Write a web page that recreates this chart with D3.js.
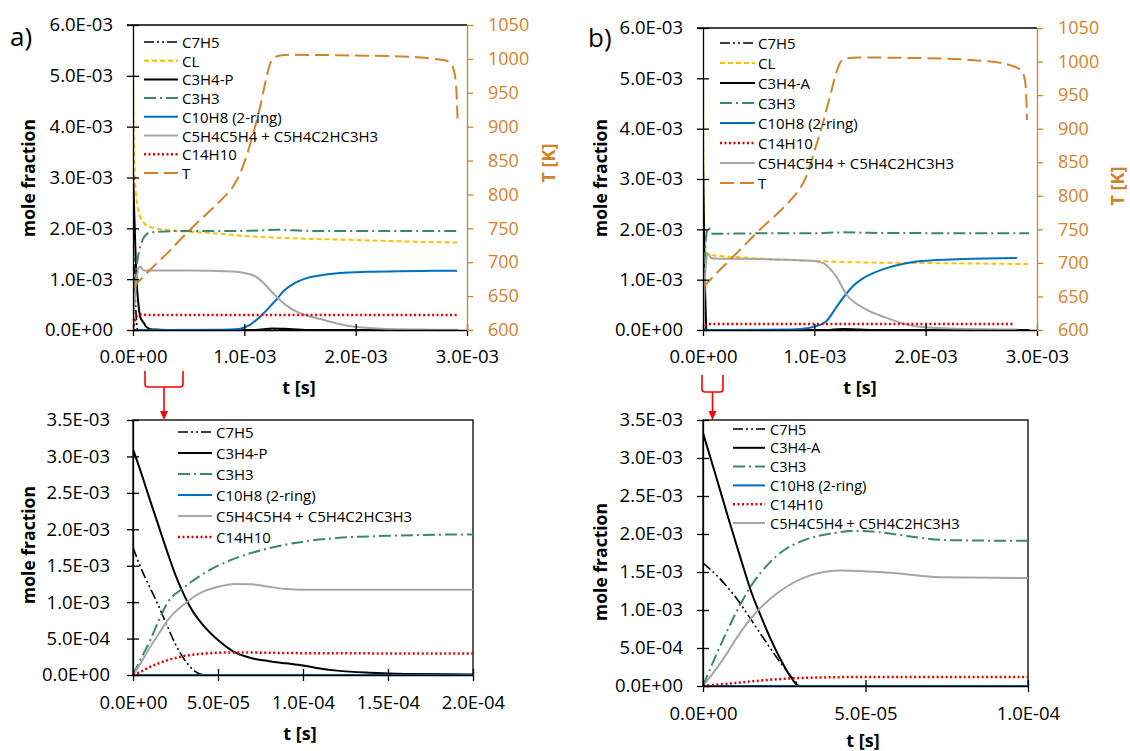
<!DOCTYPE html>
<html lang="en">
<head>
<meta charset="UTF-8" />
<title>mole fraction vs t</title>
<script src="https://cdn.jsdelivr.net/npm/d3@7"></script>
<style>
  body { margin: 0; background: #fff; }
  svg { font-family: "Open Sans", sans-serif; }
</style>
</head>
<body>
<svg width="1130" height="751"></svg>
<script>
// ---- data: [t (s), value] ----
// case a) C3H4-P
const aC7H5 = [[0,1.75e-3],[5e-6,1.45e-3],[1e-5,1.2e-3],[1.5e-5,0.95e-3],[2e-5,0.68e-3],[2.5e-5,0.42e-3],[3e-5,0.22e-3],[3.5e-5,0.08e-3],[4e-5,0.01e-3],[4.5e-5,0],[1e-4,0],[2.92e-3,0]];
const aCL = [[0,5.25e-3],[5e-6,4.2e-3],[1e-5,3.5e-3],[2e-5,2.9e-3],[4e-5,2.45e-3],[6e-5,2.25e-3],[1e-4,2.1e-3],[1.5e-4,2.03e-3],[2e-4,2.0e-3],[3e-4,1.97e-3],[4e-4,1.95e-3],[6e-4,1.92e-3],[8e-4,1.89e-3],[1e-3,1.85e-3],[1.5e-3,1.8e-3],[2e-3,1.77e-3],[2.5e-3,1.74e-3],[2.91e-3,1.72e-3]];
const aC3H4 = [[0,3.1e-3],[5e-6,2.76e-3],[1e-5,2.4e-3],[1.5e-5,2.05e-3],[2e-5,1.7e-3],[2.5e-5,1.37e-3],[3e-5,1.1e-3],[3.5e-5,0.88e-3],[4e-5,0.72e-3],[5e-5,0.48e-3],[6e-5,0.31e-3],[7e-5,0.23e-3],[8e-5,0.19e-3],[9e-5,0.16e-3],[1e-4,0.13e-3],[1.1e-4,0.09e-3],[1.2e-4,0.06e-3],[1.4e-4,0.03e-3],[1.6e-4,0.015e-3],[2e-4,0.008e-3],[3e-4,0.002e-3],[1.1e-3,0],[1.25e-3,0.03e-3],[1.4e-3,0.02e-3],[1.6e-3,0],[2.92e-3,0]];
const aC3H3 = [[0,0],[5e-6,0.24e-3],[1e-5,0.47e-3],[1.5e-5,0.74e-3],[2e-5,0.98e-3],[3e-5,1.2e-3],[4e-5,1.37e-3],[5e-5,1.5e-3],[6e-5,1.6e-3],[8e-5,1.74e-3],[1e-4,1.83e-3],[1.2e-4,1.88e-3],[1.5e-4,1.91e-3],[2e-4,1.93e-3],[5e-4,1.95e-3],[1e-3,1.95e-3],[1.3e-3,1.97e-3],[1.6e-3,1.95e-3],[2.91e-3,1.95e-3]];
const aC10H8 = [[0,0],[2e-4,0],[8e-4,0.005e-3],[9.5e-4,0.02e-3],[1e-3,0.05e-3],[1.05e-3,0.1e-3],[1.11e-3,0.2e-3],[1.17e-3,0.32e-3],[1.23e-3,0.46e-3],[1.3e-3,0.63e-3],[1.35e-3,0.76e-3],[1.45e-3,0.92e-3],[1.56e-3,1.02e-3],[1.7e-3,1.08e-3],[1.86e-3,1.12e-3],[2.1e-3,1.145e-3],[2.4e-3,1.158e-3],[2.91e-3,1.165e-3]];
const aDimer = [[0,0],[5e-6,0.18e-3],[1e-5,0.38e-3],[1.5e-5,0.56e-3],[2e-5,0.74e-3],[2.5e-5,0.87e-3],[3e-5,0.97e-3],[3.5e-5,1.06e-3],[4e-5,1.13e-3],[5e-5,1.21e-3],[6e-5,1.25e-3],[7e-5,1.245e-3],[8e-5,1.21e-3],[9e-5,1.18e-3],[1e-4,1.17e-3],[2e-4,1.17e-3],[5e-4,1.17e-3],[9e-4,1.15e-3],[1e-3,1.12e-3],[1.11e-3,1.04e-3],[1.17e-3,0.93e-3],[1.23e-3,0.79e-3],[1.3e-3,0.63e-3],[1.38e-3,0.48e-3],[1.47e-3,0.36e-3],[1.6e-3,0.26e-3],[1.71e-3,0.2e-3],[1.85e-3,0.12e-3],[2.01e-3,0.06e-3],[2.3e-3,0.02e-3],[2.6e-3,0.008e-3],[2.92e-3,0.005e-3]];
const aC14H10 = [[0,0],[5e-6,0.05e-3],[1e-5,0.11e-3],[1.5e-5,0.16e-3],[2e-5,0.2e-3],[3e-5,0.26e-3],[4e-5,0.29e-3],[5e-5,0.305e-3],[6e-5,0.31e-3],[8e-5,0.305e-3],[1e-4,0.3e-3],[2e-4,0.295e-3],[2.91e-3,0.295e-3]];
const aT = [[0,662],[1e-4,680],[2.16e-4,699],[3e-4,712],[4e-4,729],[5.12e-4,748],[6.65e-4,772],[8e-4,793],[9e-4,812],[9.6e-4,830],[1.02e-3,857],[1.08e-3,890],[1.14e-3,928],[1.19e-3,966],[1.23e-3,992],[1.27e-3,1002],[1.32e-3,1005],[1.4e-3,1006],[2e-3,1005],[2.5e-3,1003],[2.7e-3,1000],[2.8e-3,998],[2.85e-3,994],[2.88e-3,984],[2.9e-3,965],[2.91e-3,935],[2.915e-3,912]];

// case b) C3H4-A
const bC7H5 = [[0,1.62e-3],[5e-6,1.42e-3],[1e-5,1.17e-3],[1.5e-5,0.86e-3],[2e-5,0.54e-3],[2.5e-5,0.24e-3],[2.8e-5,0.08e-3],[3e-5,0],[1e-4,0],[2.93e-3,0]];
const bCL = [[0,4.9e-3],[3e-6,3.6e-3],[6e-6,2.6e-3],[1e-5,2.0e-3],[1.5e-5,1.7e-3],[2.5e-5,1.55e-3],[4e-5,1.5e-3],[1e-4,1.48e-3],[3e-4,1.45e-3],[5e-4,1.42e-3],[1e-3,1.37e-3],[1.5e-3,1.34e-3],[2e-3,1.33e-3],[2.5e-3,1.32e-3],[2.93e-3,1.31e-3]];
const bC3H4 = [[0,3.33e-3],[4e-6,2.76e-3],[8e-6,2.18e-3],[1.2e-5,1.62e-3],[1.5e-5,1.22e-3],[1.8e-5,0.9e-3],[2.1e-5,0.6e-3],[2.4e-5,0.34e-3],[2.7e-5,0.12e-3],[2.9e-5,0.01e-3],[3e-5,0],[1e-4,0],[1.1e-3,0],[1.25e-3,0.02e-3],[1.4e-3,0.01e-3],[1.6e-3,0],[2.93e-3,0]];
const bC3H3 = [[0,0],[5e-6,0.5e-3],[1e-5,0.95e-3],[1.5e-5,1.33e-3],[2e-5,1.6e-3],[2.5e-5,1.79e-3],[3e-5,1.9e-3],[4e-5,2.01e-3],[4.7e-5,2.04e-3],[5.5e-5,2.02e-3],[6.5e-5,1.96e-3],[7.5e-5,1.92e-3],[1e-4,1.91e-3],[5e-4,1.92e-3],[1e-3,1.92e-3],[1.25e-3,1.94e-3],[1.5e-3,1.93e-3],[2.93e-3,1.92e-3]];
const bC10H8 = [[0,0],[2e-4,0],[8e-4,0.01e-3],[9.5e-4,0.04e-3],[1.05e-3,0.1e-3],[1.11e-3,0.18e-3],[1.2e-3,0.46e-3],[1.29e-3,0.73e-3],[1.36e-3,0.9e-3],[1.44e-3,1.03e-3],[1.55e-3,1.15e-3],[1.65e-3,1.23e-3],[1.89e-3,1.35e-3],[2.1e-3,1.39e-3],[2.34e-3,1.41e-3],[2.82e-3,1.43e-3]];
const bDimer = [[0,0],[6e-6,0.34e-3],[1.14e-5,0.7e-3],[1.66e-5,0.98e-3],[2.28e-5,1.22e-3],[3.08e-5,1.42e-3],[4.2e-5,1.52e-3],[5.75e-5,1.49e-3],[7.3e-5,1.43e-3],[1e-4,1.42e-3],[5e-4,1.41e-3],[1e-3,1.37e-3],[1.08e-3,1.33e-3],[1.2e-3,1.05e-3],[1.29e-3,0.7e-3],[1.44e-3,0.44e-3],[1.65e-3,0.24e-3],[1.89e-3,0.08e-3],[2.2e-3,0.03e-3],[2.82e-3,0.01e-3]];
const bC14H10 = [[0,0],[1e-5,0.04e-3],[2e-5,0.08e-3],[3e-5,0.105e-3],[4e-5,0.115e-3],[5e-5,0.12e-3],[1e-4,0.12e-3],[2.8e-3,0.12e-3]];
const bT = [[0,663],[1e-4,681],[2.4e-4,704],[4e-4,731],[5.4e-4,754],[6.9e-4,777],[8e-4,796],[8.8e-4,813],[9.4e-4,834],[1e-3,866],[1.08e-3,910],[1.15e-3,954],[1.2e-3,985],[1.24e-3,1000],[1.3e-3,1005],[1.4e-3,1006],[2e-3,1005],[2.58e-3,1000],[2.75e-3,995],[2.85e-3,988],[2.88e-3,980],[2.9e-3,960],[2.91e-3,913]];

// legends (order as shown)
const legendTopA = ["C7H5", "CL", "C3H4-P", "C3H3", "C10H8 (2-ring)", "C5H4C5H4 + C5H4C2HC3H3", "C14H10", "T"];
const legendTopB = ["C7H5", "CL", "C3H4-A", "C3H3", "C10H8 (2-ring)", "C14H10", "C5H4C5H4 + C5H4C2HC3H3", "T"];
const legendBotA = ["C7H5", "C3H4-P", "C3H3", "C10H8 (2-ring)", "C5H4C5H4 + C5H4C2HC3H3", "C14H10"];
const legendBotB = ["C7H5", "C3H4-A", "C3H3", "C10H8 (2-ring)", "C14H10", "C5H4C5H4 + C5H4C2HC3H3"];

// ticks
const yTicksTop = [0, 1e-3, 2e-3, 3e-3, 4e-3, 5e-3, 6e-3];
const yTicksBot = [0, 5e-4, 1e-3, 1.5e-3, 2e-3, 2.5e-3, 3e-3, 3.5e-3];
const tTicks = [600, 650, 700, 750, 800, 850, 900, 950, 1000, 1050];
const xTicksTop = [0, 1e-3, 2e-3, 3e-3];
const xTicksBotA = [0, 5e-5, 1e-4, 1.5e-4, 2e-4];
const xTicksBotB = [0, 5e-5, 1e-4];

const seriesA = {"C7H5": aC7H5, "CL": aCL, "C3H4-P": aC3H4, "C3H3": aC3H3, "C10H8 (2-ring)": aC10H8,
  "C5H4C5H4 + C5H4C2HC3H3": aDimer, "C14H10": aC14H10, "T": aT};
const seriesB = {"C7H5": bC7H5, "CL": bCL, "C3H4-A": bC3H4, "C3H3": bC3H3, "C10H8 (2-ring)": bC10H8,
  "C5H4C5H4 + C5H4C2HC3H3": bDimer, "C14H10": bC14H10, "T": bT};

const ORANGE = "#D4822A";
const styles = {
  "C7H5": {color: "#000", dash: "10,3,2,3,2,3", w: 1.6},
  "CL": {color: "#FFC000", dash: "5,3", w: 2},
  "C3H4-P": {color: "#000", dash: null, w: 2},
  "C3H4-A": {color: "#000", dash: null, w: 2},
  "C3H3": {color: "#3a876a", dash: "12,4,2,4", w: 2},
  "C10H8 (2-ring)": {color: "#0070C0", dash: null, w: 2},
  "C5H4C5H4 + C5H4C2HC3H3": {color: "#A6A6A6", dash: null, w: 2},
  "C14H10": {color: "#E00000", dash: "2,2.5", w: 2.5},
  "T": {color: ORANGE, dash: "14,6", w: 2}
};
const drawOrder = ["C7H5", "CL", "C3H4-P", "C3H4-A", "C3H3", "C10H8 (2-ring)", "C5H4C5H4 + C5H4C2HC3H3", "C14H10", "T"];

const svg = d3.select("svg");

function fmtE(v) {
  if (v === 0) return "0.0E+00";
  const e = Math.floor(Math.log10(v) + 1e-9);
  const m = v / Math.pow(10, e);
  return m.toFixed(1) + "E" + (e < 0 ? "-" : "+") + String(Math.abs(e)).padStart(2, "0");
}

function drawPanel(p) {
  const x = d3.scaleLinear().domain([0, p.xMax]).range([p.left, p.right]);
  const y = d3.scaleLinear().domain([0, p.yMax]).range([p.bottom, p.top]);
  const yT = d3.scaleLinear().domain([600, 1050]).range([p.bottom, p.top]);
  const g = svg.append("g");

  svg.append("clipPath").attr("id", "clip" + p.id).append("rect")
    .attr("x", p.left).attr("y", p.top - 30)
    .attr("width", p.right - p.left).attr("height", p.bottom - p.top + 40);

  // border
  if (p.box) {
    g.append("rect").attr("x", p.left).attr("y", p.top)
      .attr("width", p.right - p.left).attr("height", p.bottom - p.top)
      .attr("fill", "none").attr("stroke", "#000").attr("stroke-width", 1.3);
  } else {
    g.append("line").attr("x1", p.left - 6).attr("x2", p.right)
      .attr("y1", p.top).attr("y2", p.top).attr("stroke", "#000").attr("stroke-width", 1.3);
  }

  // series (only those listed in this panel's legend)
  const lines = g.append("g").attr("clip-path", `url(#clip${p.id})`);
  drawOrder.filter(name => p.legend.includes(name)).forEach(name => {
    const data = p.series[name];
    const st = styles[name];
    const ys = name === "T" ? yT : y;
    lines.append("path")
      .datum(data)
      .attr("fill", "none")
      .attr("stroke", st.color)
      .attr("stroke-width", st.w)
      .attr("stroke-dasharray", st.dash)
      .attr("d", d3.line().x(d => x(d[0])).y(d => ys(d[1])).curve(d3.curveMonotoneX));
  });

  // axes
  const yAx = g.append("g").attr("transform", `translate(${p.left},0)`)
    .call(d3.axisLeft(y).tickValues(p.yTicks).tickFormat(fmtE).tickSize(6).tickSizeOuter(0).tickPadding(p.yPad))
    .attr("font-family", "Open Sans").attr("font-size", 18.5).attr("color", "#000");
  yAx.selectAll(".tick line").attr("x1", 6).attr("stroke-width", 1.3);
  yAx.select(".domain").attr("stroke-width", 1.3);

  const xAx = g.append("g").attr("transform", `translate(0,${p.bottom})`)
    .call(d3.axisBottom(x).tickValues(p.xTicks).tickFormat(fmtE).tickSize(6).tickSizeOuter(0).tickPadding(p.xPad))
    .attr("font-family", "Open Sans").attr("font-size", 18.5).attr("color", "#000");
  xAx.selectAll(".tick line").attr("y1", -6).attr("stroke-width", 1.3);
  xAx.select(".domain").attr("stroke-width", 1.3);

  if (p.legend.includes("T")) {
    const rAx = g.append("g").attr("transform", `translate(${p.right},0)`)
      .call(d3.axisRight(yT).tickValues(tTicks).tickFormat(d3.format("d")).tickSize(6).tickSizeOuter(0).tickPadding(15))
      .attr("font-family", "Open Sans").attr("font-size", 18).attr("color", ORANGE);
    rAx.selectAll(".tick line").attr("stroke-width", 1.3);
    rAx.select(".domain").attr("stroke-width", 1.3);
    g.append("text")
      .attr("transform", `translate(${p.tLabel[0]},${p.tLabel[1]}) rotate(-90)`)
      .attr("text-anchor", "middle").attr("dominant-baseline", "central")
      .attr("font-size", 18).attr("font-weight", "bold").attr("fill", ORANGE)
      .text("T [K]");
  }

  // axis titles
  g.append("text")
    .attr("transform", `translate(${p.yLabel[0]},${p.yLabel[1]}) rotate(-90)`)
    .attr("text-anchor", "middle").attr("dominant-baseline", "central")
    .attr("font-size", 17.5).attr("font-weight", "bold").text("mole fraction");
  g.append("text")
    .attr("x", p.xLabel[0]).attr("y", p.xLabel[1])
    .attr("text-anchor", "middle").attr("dominant-baseline", "central")
    .attr("font-size", 18).attr("font-weight", "bold").text("t [s]");

  // legend
  const lg = g.append("g");
  p.legend.forEach((name, i) => {
    const st = styles[name];
    const ly = p.lg.y0 + i * p.lg.dy;
    lg.append("line").attr("x1", p.lg.x0).attr("x2", p.lg.x1).attr("y1", ly).attr("y2", ly)
      .attr("stroke", st.color).attr("stroke-width", st.w).attr("stroke-dasharray", st.dash);
    lg.append("text").attr("x", p.lg.tx).attr("y", ly)
      .attr("dominant-baseline", "central").attr("font-size", p.lg.fs).text(name);
  });
}

drawPanel({id: "ta", left: 133, right: 467, top: 25, bottom: 330, xMax: 3e-3, yMax: 6e-3,
  xTicks: xTicksTop, yTicks: yTicksTop, yPad: 14, xPad: 14, box: false,
  series: seriesA, legend: legendTopA,
  lg: {x0: 144, x1: 178, tx: 182, y0: 42, dy: 18.7, fs: 15},
  yLabel: [28, 178], xLabel: [299, 387], tLabel: [548, 163]});

drawPanel({id: "tb", left: 703, right: 1037, top: 28, bottom: 330, xMax: 3e-3, yMax: 6e-3,
  xTicks: xTicksTop, yTicks: yTicksTop, yPad: 14, xPad: 14, box: false,
  series: seriesB, legend: legendTopB,
  lg: {x0: 720, x1: 755, tx: 758, y0: 43, dy: 20, fs: 15},
  yLabel: [600, 178], xLabel: [860, 387], tLabel: [1117, 186]});

drawPanel({id: "ba", left: 133, right: 473, top: 420, bottom: 675, xMax: 2e-4, yMax: 3.5e-3,
  xTicks: xTicksBotA, yTicks: yTicksBot, yPad: 17, xPad: 15, box: true,
  series: seriesA, legend: legendBotA,
  lg: {x0: 178, x1: 212, tx: 216, y0: 432, dy: 21, fs: 15},
  yLabel: [28, 545], xLabel: [300, 733], tLabel: null});

drawPanel({id: "bb", left: 703, right: 1028, top: 420, bottom: 686, xMax: 1e-4, yMax: 3.5e-3,
  xTicks: xTicksBotB, yTicks: yTicksBot, yPad: 14, xPad: 15, box: true,
  series: seriesB, legend: legendBotB,
  lg: {x0: 733, x1: 765, tx: 770, y0: 429, dy: 18.8, fs: 14.5},
  yLabel: [600, 562], xLabel: [863, 740], tLabel: null});

// panel letters
svg.append("text").attr("x", 10).attr("y", 36).attr("dominant-baseline", "central")
  .attr("font-size", 26).text("a)");
svg.append("text").attr("x", 588).attr("y", 37).attr("dominant-baseline", "central")
  .attr("font-size", 26).text("b)");

// zoom brackets + arrows
const RED = "#FF0000";
function bracket(xl, xr, yt, yb, tip) {
  const xm = (xl + xr) / 2;
  svg.append("path").attr("d", `M${xl},${yt} V${yb - 3} Q${xl},${yb} ${xl + 3},${yb} H${xr - 3} Q${xr},${yb} ${xr},${yb - 3} V${yt}`)
    .attr("fill", "none").attr("stroke", RED).attr("stroke-width", 1.6);
  svg.append("line").attr("x1", xm).attr("x2", xm).attr("y1", yb).attr("y2", tip - 7)
    .attr("stroke", RED).attr("stroke-width", 1.6);
  svg.append("path").attr("d", `M${xm - 4},${tip - 9} L${xm + 4},${tip - 9} L${xm},${tip} Z`).attr("fill", RED);
}
bracket(145, 183, 371, 387, 420);
bracket(702, 723, 375, 392, 420);
</script>
</body>
</html>
